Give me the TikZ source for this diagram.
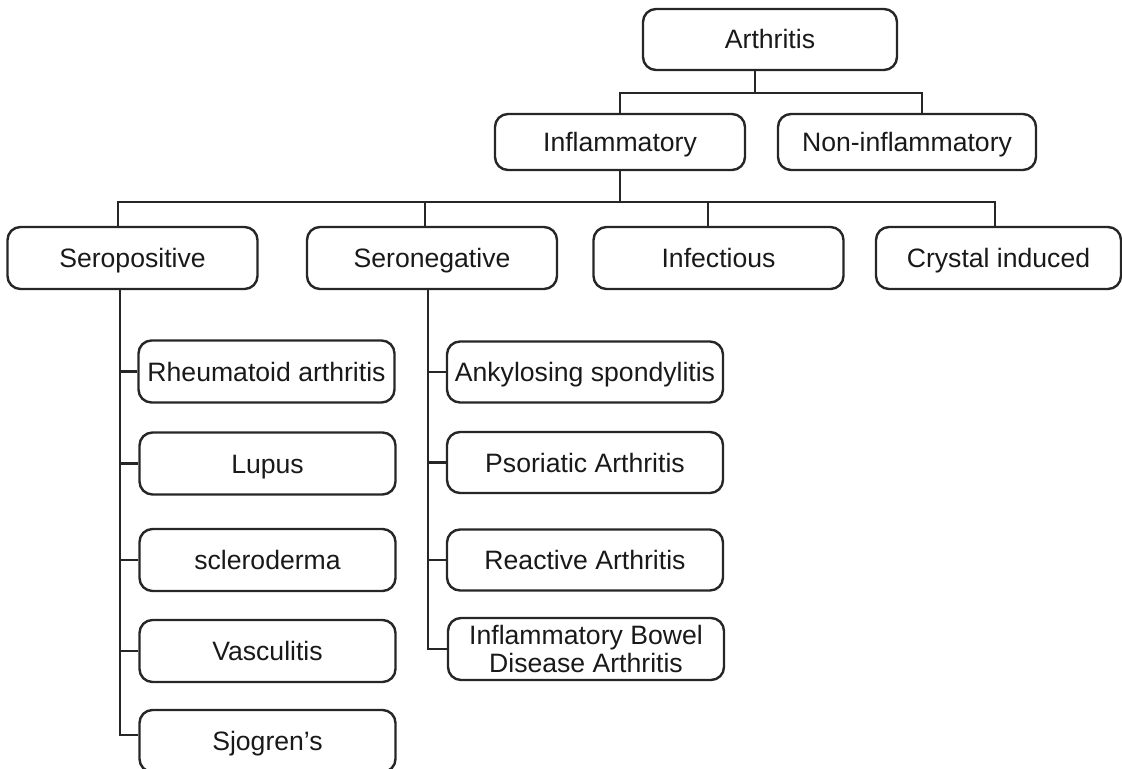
\documentclass[tikz,border=0pt]{standalone}
\usepackage{fontspec}
\setmainfont{Liberation Sans}
\usetikzlibrary{calc}
\begin{document}
\begin{tikzpicture}[x=0.5pt,y=-0.5pt,
  box/.style={draw=black!85, line width=1.2pt, rounded corners=6.5pt, inner sep=0pt,
    align=center, text=black!90, font=\fontsize{13.3}{14}\selectfont},
  oneline/.style={text height=12.3pt, text depth=2.8pt},
  lvltwo/.style={box, oneline, minimum width=125pt, minimum height=31pt},
  leftkid/.style={box, oneline, minimum width=128pt, minimum height=31pt},
  rightkid/.style={box, minimum width=138pt, minimum height=30.5pt},
  link/.style={draw=black!85, line width=1.1pt}]
\useasboundingbox (0,0) rectangle (1122,769);
% top levels
\node[box, oneline, minimum width=127pt, minimum height=30.5pt] (A) at (770,39.5) {Arthritis};
\node[box, oneline, minimum width=125pt, minimum height=28pt] (I) at (620,142) {Inflammatory};
\node[box, oneline, minimum width=129pt, minimum height=28pt] (N) at (907,142) {Non-inflammatory};
% second level
\node[lvltwo] (SP) at (132.5,258) {Seropositive};
\node[lvltwo] (SN) at (432,258) {Seronegative};
\node[lvltwo] (IN) at (718.5,258) {Infectious};
\node[lvltwo, minimum width=122.5pt] (CR) at (998.5,258) {Crystal induced};
% seropositive children
\node[leftkid] (RA) at (266.5,371.5) {Rheumatoid arthritis};
\node[leftkid] (LU) at (267.5,463.5) {Lupus};
\node[leftkid] (SC) at (267.5,560) {scleroderma};
\node[leftkid] (VA) at (267.5,651) {Vasculitis};
\node[leftkid] (SJ) at (267.5,741) {Sjogren's};
% seronegative children
\node[rightkid, oneline] (AS) at (585,372) {Ankylosing spondylitis};
\node[rightkid, oneline] (PA) at (585,462.5) {Psoriatic Arthritis};
\node[rightkid, oneline] (RE) at (585,560) {Reactive Arthritis};
\node[rightkid, minimum height=31pt] (IB) at (586,649) {Inflammatory Bowel\\Disease Arthritis};
% connectors top
\coordinate (aS) at ([xshift=-7.5pt]A.south);
\coordinate (j1) at (755,93);
\coordinate (nN) at ([xshift=7.5pt]N.north);
\draw[link] (aS) -- (j1);
\draw[link] (I.north) |- (j1) -| (nN);
% connectors second level
\coordinate (j2) at (620,202);
\coordinate (spN) at ([xshift=-7.25pt]SP.north);
\coordinate (snN) at ([xshift=-3.5pt]SN.north);
\coordinate (inN) at ([xshift=-5.25pt]IN.north);
\coordinate (crN) at ([xshift=-1.75pt]CR.north);
\draw[link] (I.south) -- (j2);
\draw[link] (spN) |- (j2) -| (crN);
\draw[link] (snN) -- (snN |- j2);
\draw[link] (inN) -- (inN |- j2);
% seropositive trunk
\coordinate (spS) at ([xshift=-6.25pt]SP.south);
\draw[link] (spS) |- (RA.west);
\draw[link] (spS) |- (LU.west);
\draw[link] (spS) |- (SC.west);
\draw[link] (spS) |- (VA.west);
\draw[link] (spS) |- ([yshift=3pt]SJ.west);
% seronegative trunk
\coordinate (snS) at ([xshift=-2pt]SN.south);
\draw[link] (snS) |- (AS.west);
\draw[link] (snS) |- (PA.west);
\draw[link] (snS) |- (RE.west);
\draw[link] (snS) |- (IB.west);
\end{tikzpicture}
\end{document}
